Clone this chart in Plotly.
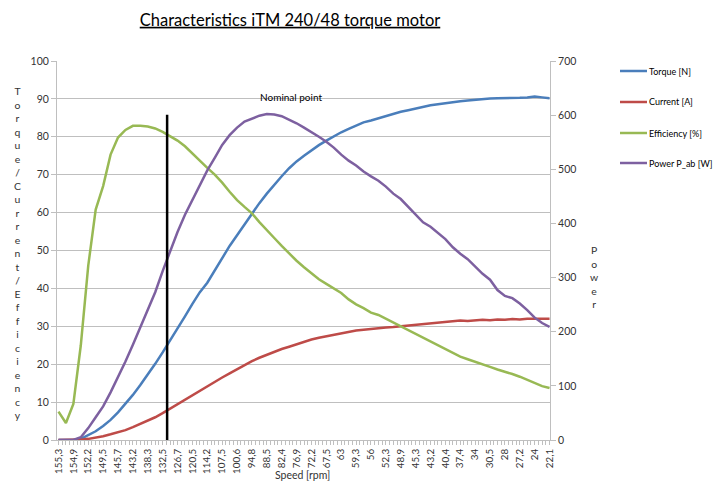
import plotly.graph_objects as go

speed_labels = ["155,3", "154,9", "152,2", "149,5", "145,7", "143,2", "138,3", "132,5",
                "126,7", "120,5", "114,2", "107,5", "100,6", "94,8", "88,5", "82,4",
                "76,9", "72,2", "67,5", "63", "59,3", "56", "52,3", "48,9", "45,3",
                "43,2", "40,4", "37,4", "34", "30,5", "28", "27,2", "24", "22,1"]

# data sampled at half-label steps (position in label units)
positions = [k * 0.5 for k in range(67)]

torque = [0, 0, 0, 0.3, 1.2, 2.3, 3.7, 5.3, 7.3, 9.5, 11.9, 14.5, 17.2, 20.1, 23.1, 26.2,
          29.4, 32.6, 35.9, 39.0, 41.5, 44.8, 48.2, 51.2, 54.0, 56.8, 59.8, 62.5, 65.0,
          67.4, 69.6, 71.7, 73.5, 75.0, 76.5, 77.8, 79.0, 80.2, 81.2, 82.1, 83.0, 83.8,
          84.3, 84.9, 85.5, 86.0, 86.6, 87.0, 87.5, 87.9, 88.3, 88.6, 88.9, 89.2, 89.4,
          89.6, 89.8, 90.0, 90.1, 90.2, 90.2, 90.3, 90.3, 90.4, 90.6, 90.4, 90.2]

current = [0, 0, 0, 0.1, 0.3, 0.6, 1.0, 1.5, 2.0, 2.6, 3.4, 4.2, 5.1, 6.0, 7.1, 8.3, 9.3,
           10.6, 11.8, 13.0, 14.3, 15.3, 16.5, 17.6, 18.7, 19.7, 20.8, 21.7, 22.5, 23.3,
           24.0, 24.6, 25.3, 25.9, 26.5, 27.0, 27.4, 27.8, 28.2, 28.5, 28.9, 29.1, 29.3,
           29.6, 29.7, 29.8, 30.0, 30.2, 30.4, 30.6, 30.8, 31.0, 31.2, 31.3, 31.5, 31.4,
           31.6, 31.7, 31.6, 31.8, 31.7, 31.9, 31.8, 32.0, 32.0, 32.0, 32.0]

efficiency = [7.5, 4.5, 9.5, 25.0, 46.0, 60.8, 67.0, 75.3, 79.8, 81.8, 82.9, 82.9, 82.7,
              82.2, 81.3, 80.2, 79.0, 77.5, 75.6, 73.5, 71.8, 70.0, 67.9, 65.5, 63.3, 61.5,
              59.8, 57.5, 55.5, 53.3, 51.2, 49.2, 47.3, 45.6, 44.0, 42.4, 41.2, 40.0, 38.8,
              37.1, 35.8, 34.8, 33.6, 33.0, 32.0, 30.8, 29.8, 28.8, 27.9, 26.9, 25.8, 24.9,
              23.9, 23.0, 22.0, 21.3, 20.7, 20.0, 19.3, 18.6, 18.1, 17.4, 16.7, 15.8, 14.9,
              14.2, 13.7]

power = [0, 0, 0, 5, 22, 42, 62, 88, 115, 145, 176, 208, 240, 273, 312, 350, 384, 416,
         444, 472, 498, 521, 545, 563, 577, 588, 594, 599, 602, 601, 598, 592, 585, 577,
         569, 560, 551, 540, 527, 516, 507, 496, 487, 479, 468, 455, 445, 431, 417, 402,
         394, 383, 371, 356, 344, 334, 321, 307, 296, 277, 266, 262, 252, 240, 226, 216, 209]

series_names = ["Torque [N]", "Current [A]", "Efficiency [%]", "Power P_ab [W]"]
colors = ["#4A7EBB", "#BE4B48", "#98B954", "#7D60A0"]

nominal_pos = 7.3
nominal_top = 85.8

FONT = "Lato, 'Open Sans', sans-serif"
TXT = "#333333"
GRID = "#BFBFBF"

L, R, T, B = 57, 167, 61, 43
W, H = 717 - L - R, 483 - T - B

def px_x(px):
    return (px - L) / W

def px_y(py):
    return (483 - B - py) / H

fig = go.Figure()
left_series = [torque, current, efficiency]
for i, vals in enumerate(left_series):
    fig.add_trace(go.Scatter(x=positions, y=vals, mode="lines", name=series_names[i],
                             line=dict(color=colors[i], width=2.5), showlegend=False))
fig.add_trace(go.Scatter(x=positions, y=power, mode="lines", name=series_names[3],
                         line=dict(color=colors[3], width=2.5), yaxis="y2",
                         showlegend=False))

# hand-drawn legend (to the right of the plot)
legend_rows_px = [71, 102, 133, 163]
for name, col, ypx in zip(series_names, colors, legend_rows_px):
    fig.add_shape(type="line", xref="paper", yref="paper",
                  x0=px_x(620), x1=px_x(647), y0=px_y(ypx), y1=px_y(ypx),
                  line=dict(color=col, width=2.5))
    fig.add_annotation(x=px_x(648), y=px_y(ypx), xref="paper", yref="paper",
                       text=name, showarrow=False, xanchor="left", yanchor="middle",
                       borderpad=0,
                       font=dict(family=FONT, size=9, color="black"))

fig.add_shape(type="line", x0=nominal_pos, x1=nominal_pos, y0=0, y1=nominal_top,
              xref="x", yref="y", line=dict(color="black", width=2.5))

fig.add_annotation(x=15.6, y=90.5, xref="x", yref="y", text="Nominal point",
                   showarrow=False, font=dict(family=FONT, size=10, color="black"))

left_title = "Torque/Current/Efficiency"
fig.add_annotation(x=px_x(17), y=px_y(253), xref="paper", yref="paper",
                   text="<br>".join(left_title), showarrow=False,
                   font=dict(family=FONT, size=10.4, color=TXT),
                   xanchor="center", yanchor="middle")
fig.add_annotation(x=px_x(594), y=px_y(277), xref="paper", yref="paper",
                   text="<br>".join("Power"), showarrow=False,
                   font=dict(family=FONT, size=10.4, color=TXT),
                   xanchor="center", yanchor="middle")
fig.add_annotation(x=px_x(302), y=px_y(475), xref="paper", yref="paper",
                   text="Speed [rpm]", showarrow=False,
                   font=dict(family=FONT, size=10.5, color=TXT),
                   xanchor="center", yanchor="middle")

fig.update_layout(
    width=717, height=483,
    margin=dict(l=L, r=R, t=T, b=B, autoexpand=False),
    paper_bgcolor="white", plot_bgcolor="white",
    title=dict(text="<u>Characteristics iTM 240/48 torque motor</u>",
               x=290 / 717, xanchor="center", y=1 - 20 / 483, yanchor="middle",
               font=dict(family=FONT, size=16.5, color="black")),
    showlegend=False,
    xaxis=dict(range=[-0.1, 33.03], tickmode="array",
               tickvals=list(range(len(speed_labels))), ticktext=speed_labels,
               tickangle=-90, ticks="outside", ticklen=4, tickcolor=GRID,
               showline=True, linecolor=GRID, showgrid=False, zeroline=False,
               automargin=False,
               tickfont=dict(family=FONT, size=9.8, color=TXT),
               minor=dict(dtick=0.25, ticks="outside", ticklen=4, tickcolor=GRID)),
    yaxis=dict(range=[0, 100], dtick=10, ticks="outside", ticklen=5, tickcolor=GRID,
               showline=True, linecolor=GRID, showgrid=True, gridcolor=GRID,
               zeroline=False, automargin=False,
               tickfont=dict(family=FONT, size=10.5, color=TXT)),
    yaxis2=dict(range=[0, 700], dtick=100, overlaying="y", side="right", ticks="outside",
                ticklen=5, tickcolor=GRID, showline=True, linecolor=GRID,
                showgrid=False, zeroline=False, automargin=False,
                tickfont=dict(family=FONT, size=10.5, color=TXT)),
)

fig.write_html("out.html")
